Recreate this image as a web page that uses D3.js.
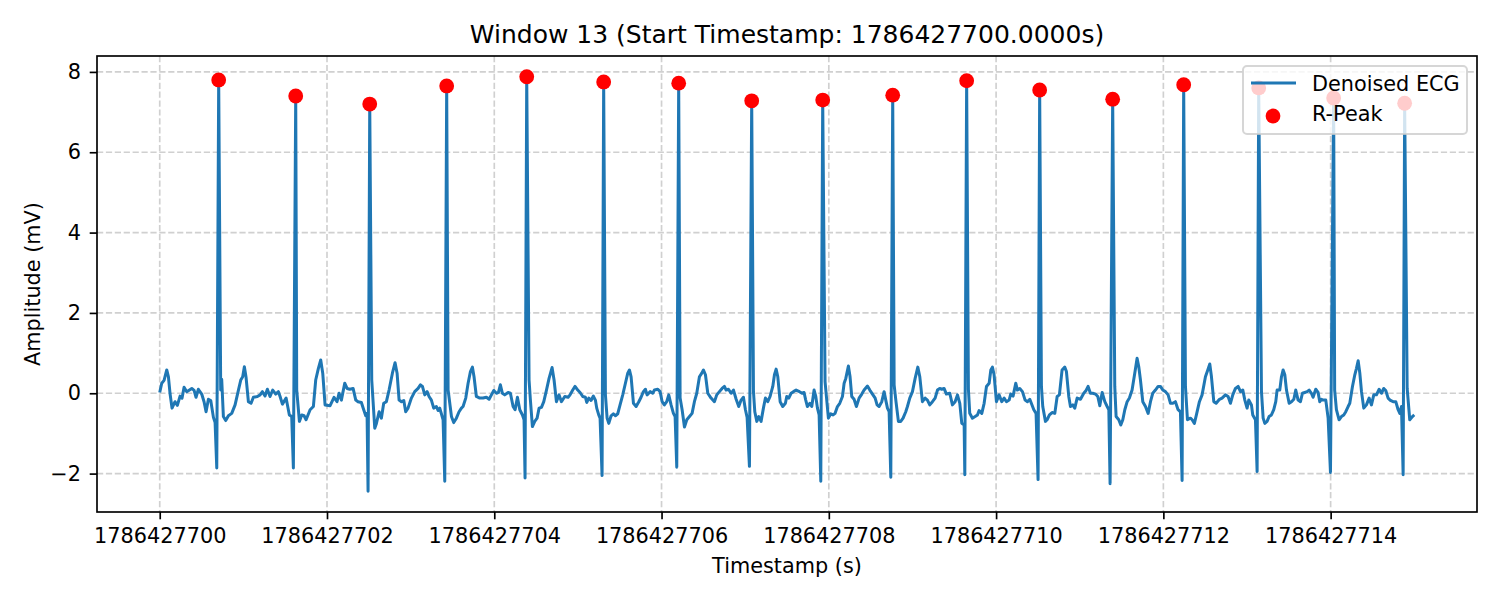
<!DOCTYPE html>
<html lang="en">
<head>
    <meta charset="UTF-8">
    <title>Window 13 ECG</title>
    <script src="https://d3js.org/d3.v7.min.js"></script>
    <style>
        body { margin: 0; background: #fff; }
        text { font-family: "DejaVu Sans", sans-serif; fill: #000; }
    </style>
</head>
<body>
    <div id="chart"></div>

    <script>
        // window start (s)
        const startTs = 1786427700;

        // ECG samples, seconds after startTs
        const ecgTime = [
            0.000, 0.024, 0.052, 0.084, 0.104, 0.124, 0.147, 0.183, 0.211, 0.243,
            0.267, 0.291, 0.323, 0.383, 0.411, 0.434, 0.462, 0.502, 0.530, 0.554,
            0.582, 0.610, 0.642, 0.662, 0.682, 0.705, 0.729, 0.741, 0.761, 0.789,
            0.821, 0.861, 0.901, 0.941, 0.969, 0.992, 1.012, 1.032, 1.060, 1.092,
            1.120, 1.168, 1.200, 1.228, 1.259, 1.287, 1.319, 1.351, 1.387, 1.419,
            1.439, 1.467, 1.511, 1.550, 1.578, 1.598, 1.626, 1.638, 1.670, 1.698,
            1.726, 1.750, 1.798, 1.837, 1.865, 1.897, 1.925, 1.949, 1.977, 2.037,
            2.084, 2.120, 2.144, 2.172, 2.192, 2.212, 2.240, 2.272, 2.312, 2.344,
            2.371, 2.411, 2.439, 2.463, 2.479, 2.491, 2.511, 2.535, 2.571, 2.591,
            2.623, 2.650, 2.678, 2.710, 2.742, 2.782, 2.814, 2.838, 2.862, 2.890,
            2.918, 2.941, 2.969, 3.009, 3.049, 3.089, 3.117, 3.141, 3.169, 3.197,
            3.220, 3.248, 3.276, 3.308, 3.328, 3.348, 3.388, 3.408, 3.431, 3.448,
            3.488, 3.515, 3.547, 3.579, 3.607, 3.627, 3.659, 3.687, 3.715, 3.739,
            3.758, 3.786, 3.826, 3.866, 3.906, 3.938, 3.966, 3.994, 4.026, 4.050,
            4.073, 4.097, 4.125, 4.165, 4.193, 4.225, 4.249, 4.277, 4.305, 4.337,
            4.356, 4.368, 4.388, 4.416, 4.432, 4.456, 4.484, 4.512, 4.536, 4.564,
            4.592, 4.624, 4.655, 4.691, 4.715, 4.743, 4.775, 4.803, 4.843, 4.883,
            4.906, 4.938, 4.966, 4.998, 5.026, 5.058, 5.090, 5.106, 5.130, 5.157,
            5.185, 5.209, 5.225, 5.249, 5.265, 5.289, 5.308, 5.329, 5.349, 5.369,
            5.397, 5.424, 5.448, 5.476, 5.504, 5.536, 5.568, 5.596, 5.616, 5.636,
            5.664, 5.696, 5.728, 5.755, 5.783, 5.807, 5.827, 5.863, 5.895, 5.915,
            5.955, 5.983, 6.007, 6.034, 6.062, 6.086, 6.114, 6.142, 6.162, 6.182,
            6.205, 6.222, 6.246, 6.274, 6.302, 6.334, 6.365, 6.393, 6.421, 6.453,
            6.481, 6.501, 6.525, 6.553, 6.592, 6.632, 6.660, 6.692, 6.724, 6.752,
            6.772, 6.800, 6.832, 6.860, 6.892, 6.923, 6.951, 6.979, 7.003, 7.023,
            7.051, 7.078, 7.099, 7.115, 7.139, 7.162, 7.190, 7.218, 7.242, 7.270,
            7.298, 7.330, 7.350, 7.370, 7.390, 7.418, 7.449, 7.481, 7.497, 7.521,
            7.549, 7.577, 7.609, 7.649, 7.680, 7.704, 7.724, 7.744, 7.772, 7.796,
            7.824, 7.844, 7.864, 7.884, 7.904, 7.927, 7.955, 7.971, 7.995, 8.023,
            8.051, 8.075, 8.103, 8.131, 8.163, 8.183, 8.203, 8.234, 8.254, 8.274,
            8.302, 8.330, 8.362, 8.394, 8.422, 8.462, 8.490, 8.522, 8.554, 8.577,
            8.601, 8.633, 8.661, 8.681, 8.701, 8.721, 8.741, 8.764, 8.781, 8.801,
            8.832, 8.860, 8.888, 8.920, 8.940, 8.968, 9.000, 9.032, 9.064, 9.088,
            9.119, 9.151, 9.179, 9.207, 9.239, 9.271, 9.299, 9.326, 9.350, 9.378,
            9.406, 9.446, 9.478, 9.510, 9.538, 9.566, 9.590, 9.618, 9.626, 9.648,
            9.669, 9.685, 9.717, 9.749, 9.777, 9.797, 9.829, 9.857, 9.885, 9.917,
            9.937, 9.956, 9.976, 10.004, 10.036, 10.068, 10.096, 10.124, 10.156, 10.175,
            10.203, 10.235, 10.255, 10.283, 10.315, 10.347, 10.375, 10.403, 10.451, 10.478,
            10.502, 10.521, 10.542, 10.558, 10.590, 10.610, 10.638, 10.670, 10.702, 10.730,
            10.757, 10.789, 10.821, 10.841, 10.869, 10.889, 10.917, 10.941, 10.969, 11.009,
            11.048, 11.076, 11.100, 11.128, 11.156, 11.188, 11.216, 11.240, 11.268, 11.300,
            11.328, 11.348, 11.363, 11.394, 11.419, 11.435, 11.467, 11.491, 11.515, 11.539,
            11.567, 11.594, 11.626, 11.658, 11.686, 11.706, 11.726, 11.754, 11.786, 11.818,
            11.846, 11.873, 11.905, 11.937, 11.965, 11.993, 12.025, 12.057, 12.085, 12.113,
            12.144, 12.176, 12.204, 12.224, 12.243, 12.264, 12.288, 12.324, 12.344, 12.371,
            12.395, 12.431, 12.463, 12.503, 12.531, 12.555, 12.575, 12.603, 12.631, 12.671,
            12.702, 12.742, 12.774, 12.802, 12.830, 12.862, 12.894, 12.922, 12.950, 12.974,
            13.001, 13.021, 13.053, 13.069, 13.101, 13.121, 13.140, 13.173, 13.193, 13.213,
            13.240, 13.264, 13.292, 13.320, 13.344, 13.360, 13.392, 13.412, 13.432, 13.452,
            13.472, 13.504, 13.532, 13.560, 13.583, 13.611, 13.639, 13.663, 13.691, 13.719,
            13.743, 13.770, 13.790, 13.822, 13.850, 13.870, 13.890, 13.910, 13.942, 13.970,
            13.998, 14.036, 14.048, 14.069, 14.101, 14.129, 14.157, 14.181, 14.209, 14.229,
            14.261, 14.289, 14.309, 14.329, 14.349, 14.369, 14.396, 14.428, 14.460, 14.488,
            14.516, 14.548, 14.580, 14.608, 14.635, 14.659, 14.687, 14.715, 14.747, 14.779,
            14.807, 14.827, 14.847, 14.867, 14.885, 14.915, 14.946, 14.978, 15.000
        ];

        // denoised amplitude (mV), same order as ecgTime
        const ecgAmp = [
            0.02, 0.25, 0.32, 0.58, 0.41, -0.02, -0.37, -0.21, -0.30, -0.07,
            -0.12, 0.15, 0.04, 0.12, 0.07, -0.10, 0.10, -0.02, -0.21, -0.46,
            -0.15, -0.18, -0.60, -0.73, -1.86, 7.80, 0.08, 0.35, -0.58, -0.68,
            -0.56, -0.50, -0.29, 0.08, 0.33, 0.41, 0.66, 0.40, -0.21, -0.25,
            -0.10, -0.08, -0.04, 0.04, -0.07, 0.10, -0.08, 0.08, -0.02, 0.04,
            -0.08, -0.27, -0.12, -0.54, -0.58, -1.86, 7.40, 0.08, -0.70, -0.54,
            -0.56, -0.66, -0.41, -0.33, 0.33, 0.62, 0.83, 0.50, -0.29, -0.31,
            -0.10, -0.21, 0.00, -0.17, 0.04, 0.25, 0.12, 0.10, 0.12, -0.17,
            -0.21, -0.23, -0.41, -0.56, -0.50, -2.44, 7.20, 0.33, -0.87, -0.75,
            -0.46, -0.62, -0.25, -0.21, 0.08, 0.50, 0.76, 0.50, -0.17, -0.21,
            -0.18, -0.46, -0.37, -0.12, 0.04, 0.12, 0.21, 0.17, -0.04, 0.04,
            -0.08, -0.17, -0.37, -0.33, -0.43, -0.37, -0.66, -2.19, 7.65, 0.08,
            -0.58, -0.73, -0.62, -0.46, -0.37, -0.33, -0.12, 0.25, 0.54, 0.65,
            0.41, -0.08, -0.12, -0.12, -0.10, -0.15, -0.04, 0.07, 0.00, 0.02,
            0.21, 0.00, -0.04, 0.02, 0.00, -0.33, -0.41, -0.10, -0.41, -0.54,
            -0.66, -2.11, 7.88, 0.33, -0.17, -0.83, -0.70, -0.62, -0.37, -0.35,
            -0.21, 0.08, 0.37, 0.64, 0.33, -0.21, -0.04, -0.21, -0.08, -0.10,
            -0.04, 0.08, 0.17, 0.08, 0.02, -0.08, -0.10, -0.23, -0.12, -0.18,
            -0.07, -0.17, -0.37, -0.54, -0.62, -2.05, 7.75, -0.04, -0.62, -0.75,
            -0.56, -0.51, -0.56, -0.51, -0.29, -0.04, 0.25, 0.50, 0.58, 0.41,
            -0.25, -0.33, -0.21, -0.10, 0.04, 0.10, -0.04, 0.04, 0.00, 0.08,
            0.10, 0.04, -0.21, -0.29, -0.21, -0.04, -0.29, -0.50, -0.58, -1.84,
            7.72, -0.12, -0.41, -0.84, -0.66, -0.58, -0.50, -0.21, 0.00, 0.41,
            0.50, 0.58, 0.46, 0.00, -0.12, -0.21, -0.04, 0.04, 0.12, 0.17,
            0.08, 0.10, 0.00, 0.08, -0.15, -0.33, -0.17, -0.10, -0.41, -0.60,
            -1.82, 7.28, 0.04, -0.46, -0.70, -0.58, -0.70, -0.37, -0.12, -0.21,
            -0.08, 0.17, 0.46, 0.60, 0.41, -0.21, -0.33, -0.25, -0.08, -0.12,
            0.00, 0.04, 0.08, 0.04, 0.00, 0.02, -0.17, -0.33, -0.25, -0.33,
            0.08, -0.08, -0.37, -0.54, -2.19, 7.30, 0.29, -0.08, -0.62, -0.51,
            -0.54, -0.50, -0.33, -0.25, -0.08, 0.25, 0.37, 0.68, 0.41, -0.08,
            -0.15, -0.33, -0.12, -0.02, 0.08, 0.18, 0.08, -0.02, -0.12, -0.29,
            -0.33, -0.21, 0.04, -0.17, -0.37, -0.46, -2.09, 7.42, 0.21, -0.17,
            -0.70, -0.70, -0.62, -0.46, -0.33, -0.12, 0.04, 0.37, 0.65, 0.41,
            -0.21, -0.12, -0.17, -0.29, -0.21, -0.12, 0.08, 0.12, 0.10, 0.12,
            -0.02, 0.00, -0.29, -0.21, -0.04, -0.25, -0.75, -0.79, -2.03, 7.78,
            0.10, -0.50, -0.62, -0.58, -0.54, -0.43, -0.50, -0.25, 0.17, 0.25,
            0.58, 0.65, 0.46, -0.21, -0.04, -0.21, -0.12, -0.21, -0.17, -0.02,
            -0.07, 0.25, 0.08, 0.12, 0.04, -0.17, -0.21, -0.15, -0.41, -0.50,
            -2.15, 7.55, 0.17, -0.33, -0.70, -0.66, -0.54, -0.48, -0.50, -0.08,
            -0.04, 0.58, 0.65, 0.54, -0.08, -0.33, -0.29, -0.37, -0.12, -0.15,
            0.00, 0.07, 0.17, 0.00, 0.00, -0.02, -0.08, -0.31, 0.02, -0.21,
            -0.33, -0.41, -2.25, 7.32, 0.17, -0.58, -0.66, -0.79, -0.66, -0.41,
            -0.21, -0.12, 0.08, 0.50, 0.87, 0.66, 0.33, -0.21, -0.33, -0.50,
            -0.21, 0.00, 0.08, 0.17, 0.17, 0.08, 0.04, -0.04, -0.25, -0.25,
            -0.21, -0.41, -0.46, -2.17, 7.68, 0.17, -0.66, -0.62, -0.66, -0.75,
            -0.54, -0.21, -0.04, 0.41, 0.58, 0.73, 0.41, -0.21, -0.25, -0.15,
            -0.12, -0.04, -0.08, -0.25, -0.04, 0.12, 0.17, 0.04, 0.08, -0.17,
            -0.37, -0.17, -0.29, -0.54, -0.66, -1.95, 7.60, 0.04, -0.62, -0.75,
            -0.70, -0.58, -0.54, -0.41, -0.21, 0.08, 0.08, 0.41, 0.58, 0.46,
            0.08, -0.25, -0.21, -0.15, 0.08, -0.17, -0.21, 0.00, 0.02, 0.04,
            0.08, 0.00, -0.10, 0.10, 0.02, -0.21, -0.15, -0.17, -0.17, -0.62,
            -1.97, 7.35, 0.08, -0.41, -0.66, -0.58, -0.54, -0.46, -0.33, -0.25,
            0.17, 0.46, 0.62, 0.81, 0.50, 0.04, -0.37, -0.29, -0.12, -0.29,
            -0.04, -0.04, 0.10, 0.00, 0.12, 0.07, -0.12, -0.18, -0.21, -0.21,
            -0.41, -0.50, -0.33, -2.03, 7.22, 0.12, -0.66, -0.58, -0.54
        ];

        // detected R-peaks
        const peakTime = [0.705, 1.626, 2.511, 3.431, 4.388, 5.308, 6.205, 7.078, 7.927,
                          8.764, 9.648, 10.521, 11.394, 12.243, 13.140, 14.036, 14.885];
        const peakAmp = [7.80, 7.40, 7.20, 7.65, 7.88, 7.75, 7.72, 7.28, 7.30,
                         7.42, 7.78, 7.55, 7.32, 7.68, 7.60, 7.35, 7.22];

        // tick labels
        const xTicks = [1786427700, 1786427702, 1786427704, 1786427706,
                        1786427708, 1786427710, 1786427712, 1786427714];
        const yTicks = [-2, 0, 2, 4, 6, 8];

        if (ecgTime.length !== ecgAmp.length) console.warn("length mismatch", ecgTime.length, ecgAmp.length);

        const width = 1500;
        const height = 600;
        const margin = { top: 56, right: 23, bottom: 88, left: 97 };
        const fs = 20.8;   // 10pt at 150 dpi

        const svg = d3.select("#chart")
            .append("svg")
            .attr("width", width)
            .attr("height", height);

        // matplotlib-like 5% margins around the data
        const xExt = d3.extent(ecgTime).map(t => t + startTs);
        const yExt = d3.extent(ecgAmp.concat(peakAmp));
        const xPad = (xExt[1] - xExt[0]) * 0.05;
        const yPad = (yExt[1] - yExt[0]) * 0.05;

        const x = d3.scaleLinear()
            .domain([xExt[0] - xPad, xExt[1] + xPad])
            .range([margin.left, width - margin.right]);

        const y = d3.scaleLinear()
            .domain([yExt[0] - yPad, yExt[1] + yPad])
            .range([height - margin.bottom, margin.top]);

        const plotW = width - margin.left - margin.right;
        const plotH = height - margin.top - margin.bottom;

        // grid
        const grid = svg.append("g")
            .attr("stroke", "#b0b0b0")
            .attr("stroke-opacity", 0.6)
            .attr("stroke-width", 1.67)
            .attr("stroke-dasharray", "6.2,2.7");

        grid.selectAll(".gx")
            .data(xTicks)
            .join("line")
            .attr("x1", d => x(d)).attr("x2", d => x(d))
            .attr("y1", margin.top).attr("y2", height - margin.bottom);

        grid.selectAll(".gy")
            .data(yTicks)
            .join("line")
            .attr("x1", margin.left).attr("x2", width - margin.right)
            .attr("y1", d => y(d)).attr("y2", d => y(d));

        // ECG trace
        const line = d3.line()
            .x(i => x(startTs + ecgTime[i]))
            .y(i => y(ecgAmp[i]));

        svg.append("path")
            .datum(d3.range(ecgTime.length))
            .attr("fill", "none")
            .attr("stroke", "#1f77b4")
            .attr("stroke-width", 3)
            .attr("stroke-linejoin", "round")
            .attr("d", line);

        // R-peaks
        svg.append("g")
            .selectAll("circle")
            .data(d3.range(peakTime.length))
            .join("circle")
            .attr("cx", i => x(startTs + peakTime[i]))
            .attr("cy", i => y(peakAmp[i]))
            .attr("r", 7.4)
            .attr("fill", "red");

        // frame
        svg.append("rect")
            .attr("x", margin.left).attr("y", margin.top)
            .attr("width", plotW).attr("height", plotH)
            .attr("fill", "none")
            .attr("stroke", "#000")
            .attr("stroke-width", 1.67);

        // axes
        const minus = d => d < 0 ? "\u2212" + Math.abs(d) : String(d);

        const gx = svg.append("g")
            .attr("transform", `translate(0,${height - margin.bottom})`)
            .call(d3.axisBottom(x).tickValues(xTicks).tickFormat(d3.format("d"))
                .tickSize(7.3).tickPadding(9));

        const gy = svg.append("g")
            .attr("transform", `translate(${margin.left},0)`)
            .call(d3.axisLeft(y).tickValues(yTicks).tickFormat(minus)
                .tickSize(7.3).tickPadding(8.7));

        [gx, gy].forEach(g => {
            g.select(".domain").remove();
            g.selectAll(".tick line").attr("stroke", "#000").attr("stroke-width", 1.67);
            g.selectAll(".tick text")
                .attr("fill", "#000")
                .style("font-family", "DejaVu Sans")
                .style("font-size", fs + "px");
        });

        // title and labels
        const cx = margin.left + plotW / 2;

        svg.append("text")
            .attr("x", cx).attr("y", 43)
            .attr("text-anchor", "middle")
            .style("font-size", "25px")
            .text("Window 13 (Start Timestamp: 1786427700.0000s)");

        svg.append("text")
            .attr("x", cx).attr("y", 573)
            .attr("text-anchor", "middle")
            .style("font-size", fs + "px")
            .text("Timestamp (s)");

        svg.append("text")
            .attr("transform", `translate(40,${margin.top + plotH / 2}) rotate(-90)`)
            .attr("text-anchor", "middle")
            .style("font-size", fs + "px")
            .text("Amplitude (mV)");

        // legend (upper right, semi-transparent like matplotlib)
        const lg = svg.append("g")
            .attr("transform", `translate(${width - margin.right - 234},${margin.top + 10})`);

        lg.append("rect")
            .attr("width", 224).attr("height", 68)
            .attr("rx", 4)
            .attr("fill", "#fff").attr("fill-opacity", 0.8)
            .attr("stroke", "#cccccc").attr("stroke-opacity", 0.8)
            .attr("stroke-width", 2);

        lg.append("line")
            .attr("x1", 8).attr("x2", 53)
            .attr("y1", 17).attr("y2", 17)
            .attr("stroke", "#1f77b4")
            .attr("stroke-width", 3);

        lg.append("circle")
            .attr("cx", 30).attr("cy", 50)
            .attr("r", 7.4)
            .attr("fill", "red");

        lg.append("text")
            .attr("x", 69).attr("y", 25)
            .style("font-size", fs + "px")
            .text("Denoised ECG");

        lg.append("text")
            .attr("x", 69).attr("y", 55)
            .style("font-size", fs + "px")
            .text("R-Peak");
    </script>
</body>
</html>
